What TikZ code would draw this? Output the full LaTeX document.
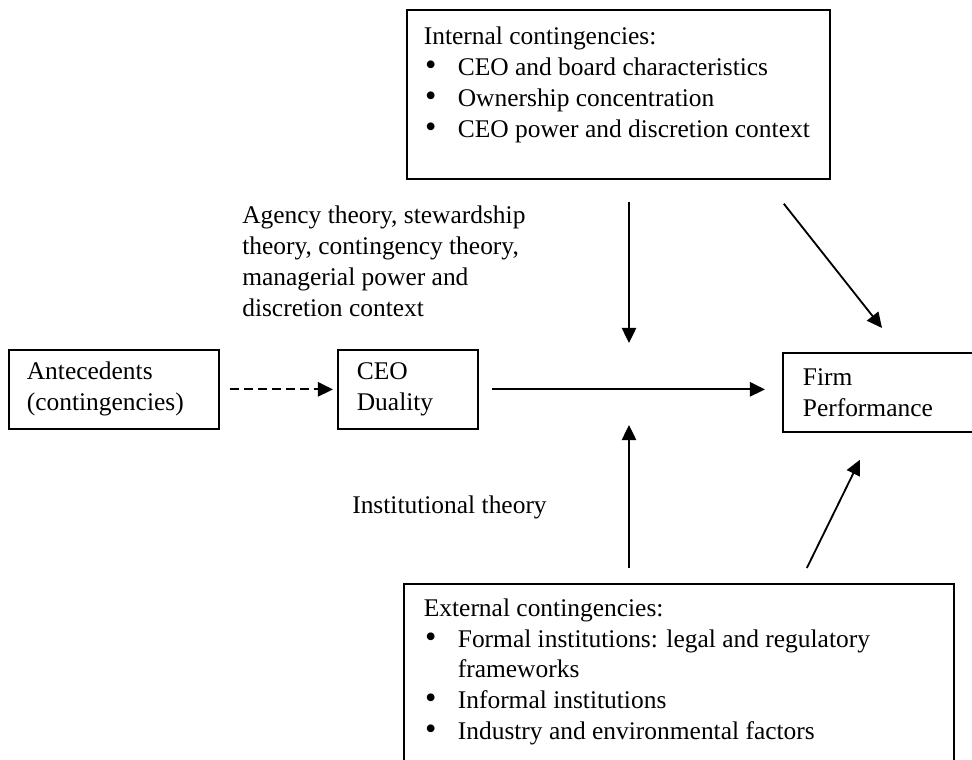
\documentclass[tikz,border=0pt]{standalone}
\usepackage{fontspec}
\setmainfont{Liberation Serif}
\usetikzlibrary{arrows.meta}

% viñeta con sangría francesa
\newcommand{\vineta}[1]{\par\noindent\hangindent=0.85cm\hangafter=1\makebox[0.85cm][l]{\hspace{0.03cm}{\fontsize{23}{22}\selectfont\textbullet}}#1}

\begin{document}
\begin{tikzpicture}[x=0.025cm, y=-0.025cm,
    every node/.style={font=\fontsize{18.1}{22}\selectfont},
    caja/.style={draw, line width=1.2pt, align=left, minimum height=1.975cm, anchor=north west},
    flecha/.style={line width=1.3pt, -{Triangle[length=0.38cm,width=0.36cm]}}]

    % marco de la figura
    \useasboundingbox (0,0) rectangle (972,760);

    % punto medio de la relación principal
    \coordinate (medio) at (629,391);

    % --- cajas de la fila central ---
    \node[caja, inner xsep=0.45cm, text width=4.35cm] (ante) at (8,349) {Antecedents\\(contingencies)};
    \node[caja, inner xsep=0.475cm, text width=2.55cm] (ceo) at (337,349) {CEO\\Duality};
    \node[caja, inner xsep=0.5cm, text width=4.7cm] (firm) at (782,352) {Firm\\Performance};

    % --- contingencias internas ---
    \node[caja, inner sep=0.425cm] (interna) at (406,9) {\parbox[t][3.375cm][t]{9.725cm}{\raggedright
        Internal contingencies:
        \vineta{CEO and board characteristics}
        \vineta{Ownership concentration}
        \vineta{CEO power and discretion context}}};

    % --- contingencias externas ---
    \node[caja, inner xsep=0.5cm, inner ysep=0.365cm] (externa) at (403,583) {\parbox[t][5cm][t]{12.75cm}{\raggedright
        External contingencies:
        \vineta{Formal institutions: legal and regulatory frameworks}
        \vineta{Informal institutions}
        \vineta{Industry and environmental factors}}};

    % etiquetas de teorías
    \node[anchor=north west, inner sep=0, align=left] (teorias) at (242,206)
        {Agency theory, stewardship\\theory, contingency theory,\\managerial power and\\discretion context};
    \node[anchor=base west, inner sep=0] (institucional) at (352,513) {Institutional theory};

    % --- flechas ---
    \draw[flecha, dash pattern=on 0.225cm off 0.125cm, shorten <=0.25cm, shorten >=0.1cm] (ante.east) -- (ceo.west);
    \draw[flecha, shorten <=0.325cm, shorten >=0.425cm] (ceo.east) -- (ceo.east -| firm.west);
    \draw[flecha, shorten <=0.55cm, shorten >=1.2cm] (interna.south -| medio) -- (medio);
    \draw[flecha, shorten <=0.375cm, shorten >=0.85cm] (externa.north -| medio) -- (medio);
    \draw[flecha] ([shift={(-47,24)}]interna.south east) -- ([shift={(100,-24)}]firm.north west);
    \draw[flecha] ([shift={(-148,-15)}]externa.north east) -- ([shift={(78,27)}]firm.south west);
\end{tikzpicture}
\end{document}
